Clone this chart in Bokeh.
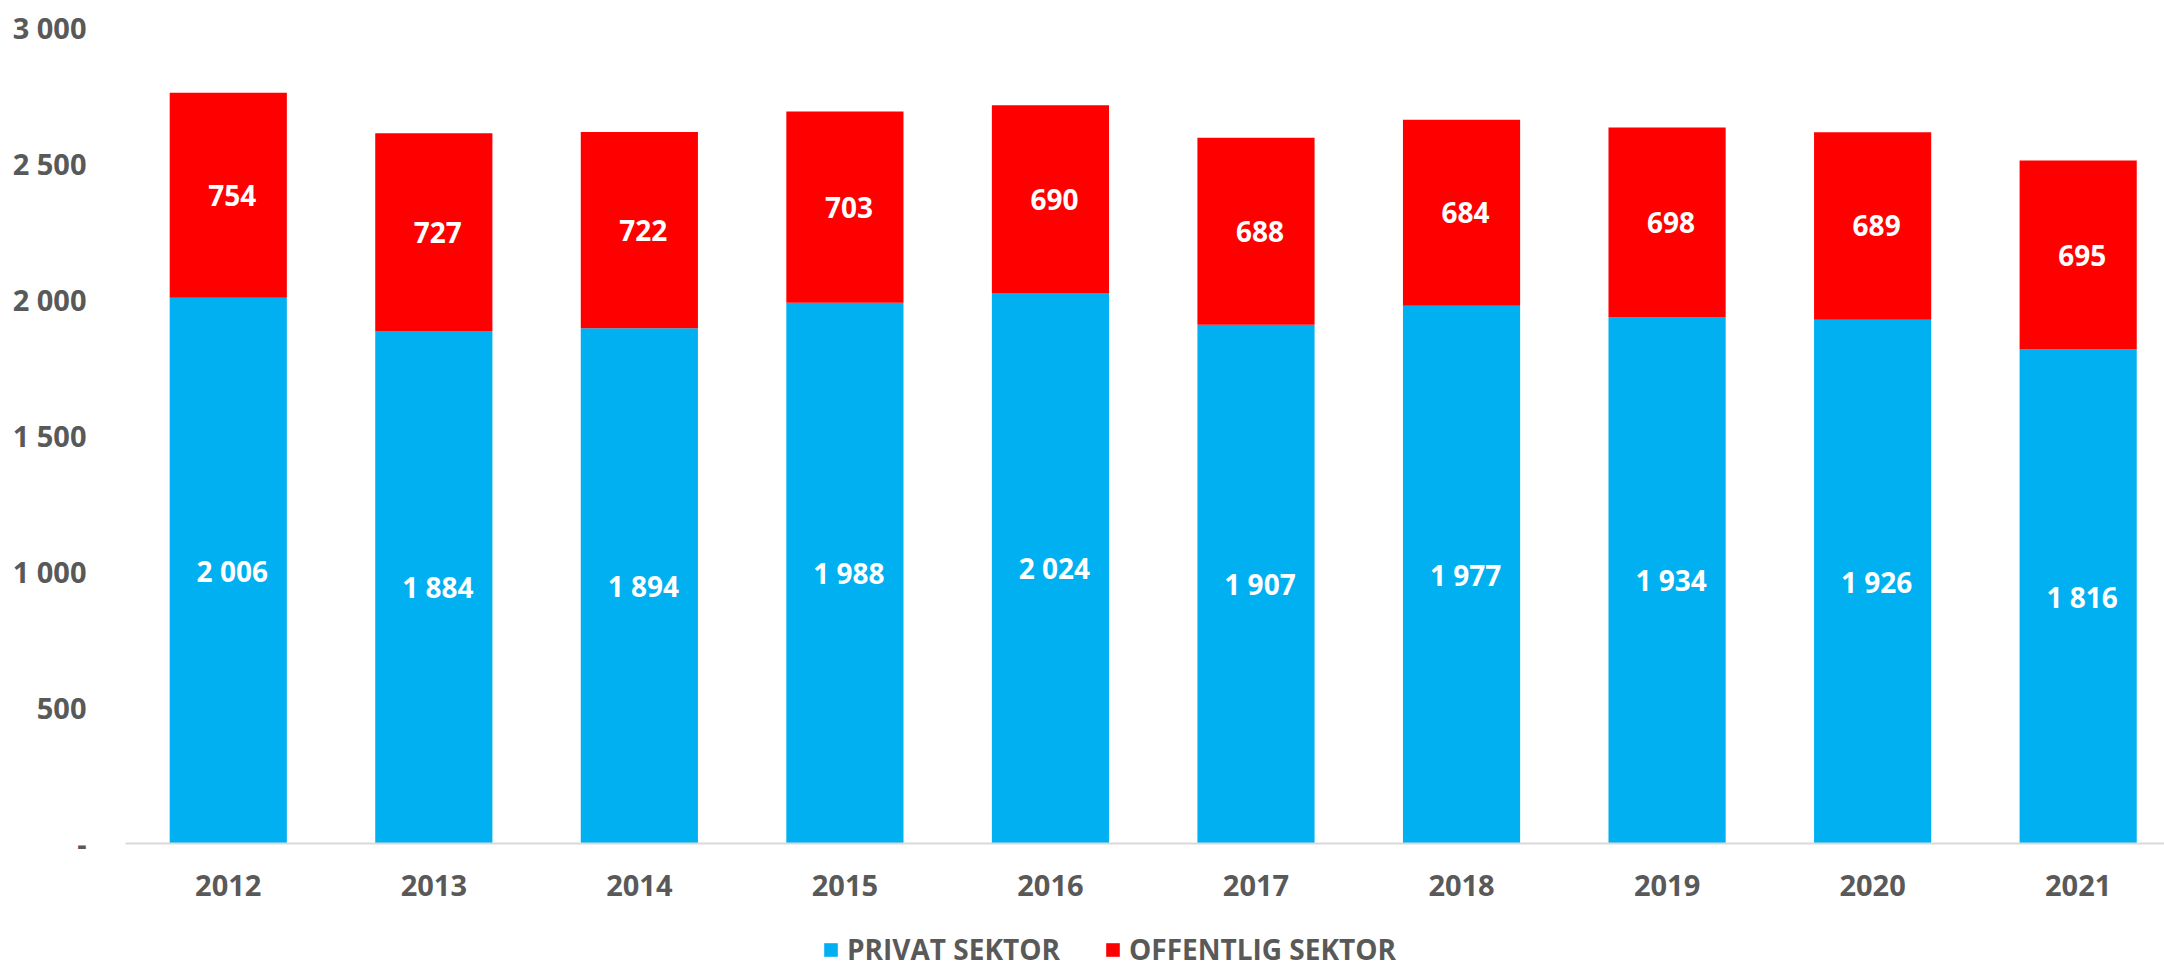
from bokeh.plotting import figure
from bokeh.layouts import column
from bokeh.models import ColumnDataSource, Range1d, FixedTicker, Legend, LegendItem
from bokeh.core.properties import value
from bokeh.embed import file_html
from bokeh.resources import INLINE

years = ["2012", "2013", "2014", "2015", "2016", "2017", "2018", "2019", "2020", "2021"]
privat = [2006, 1884, 1894, 1988, 2024, 1907, 1977, 1934, 1926, 1816]
offentlig = [754, 727, 722, 703, 690, 688, 684, 698, 689, 695]
series_names = ["PRIVAT SEKTOR", "OFFENTLIG SEKTOR"]
y_ticks = [0, 500, 1000, 1500, 2000, 2500, 3000]
y_tick_labels = ["-", "500", "1 000", "1 500", "2 000", "2 500", "3 000"]

BLUE = "#00B0F0"
RED = "#FF0000"
GRAY = "#595959"
FONT = "Open Sans"
colors = [BLUE, RED]


def fmt(v):
    return f"{v:,}".replace(",", " ")


xs = list(range(len(years)))
src = ColumnDataSource(dict(
    x=xs,
    privat=privat,
    offentlig=offentlig,
    privat_mid=[v / 2 for v in privat],
    off_mid=[a + b / 2 for a, b in zip(privat, offentlig)],
    privat_lbl=[fmt(v) for v in privat],
    off_lbl=[fmt(v) for v in offentlig],
))

p = figure(width=2164, height=924, output_backend="svg", toolbar_location=None,
           x_range=Range1d(-0.5, 9.42), y_range=Range1d(0, 3000),
           min_border_left=125, min_border_right=0, min_border_top=27, min_border_bottom=81)
p.outline_line_color = None
p.xgrid.grid_line_color = None
p.ygrid.grid_line_color = None
p.background_fill_color = "white"
p.border_fill_color = "white"

rs = p.vbar_stack(["privat", "offentlig"], x="x", width=0.57, source=src,
                  color=colors, line_color=None)

for ycol, tcol in (("privat_mid", "privat_lbl"), ("off_mid", "off_lbl")):
    p.text(x="x", y=ycol, text=tcol, source=src, text_align="center",
           text_baseline="middle", text_color="white", text_font=value(FONT),
           text_font_style="bold", text_font_size="28px", x_offset=4)

# x axis
xa = p.xaxis[0]
xa.ticker = FixedTicker(ticks=xs)
xa.major_label_overrides = {i: y for i, y in zip(xs, years)}
xa.axis_line_color = "#D9D9D9"
xa.axis_line_width = 2
xa.major_tick_line_color = None
xa.minor_tick_line_color = None
xa.major_tick_out = 0
xa.major_label_standoff = 31
xa.major_label_text_font = FONT
xa.major_label_text_font_style = "bold"
xa.major_label_text_font_size = "29px"
xa.major_label_text_color = GRAY

# y axis
ya = p.yaxis[0]
ya.ticker = FixedTicker(ticks=y_ticks)
ya.major_label_overrides = {t: l for t, l in zip(y_ticks, y_tick_labels)}
ya.axis_line_color = None
ya.major_tick_line_color = None
ya.minor_tick_line_color = None
ya.major_tick_out = 0
ya.major_label_standoff = 39
ya.major_label_text_font = FONT
ya.major_label_text_font_style = "bold"
ya.major_label_text_font_size = "29px"
ya.major_label_text_color = GRAY

# legend strip below the chart
pl = figure(width=2164, height=44, output_backend="svg", toolbar_location=None,
            x_range=Range1d(0, 1), y_range=Range1d(0, 1),
            min_border_left=0, min_border_right=0, min_border_top=0, min_border_bottom=0,
            x_axis_location=None, y_axis_location=None)
pl.outline_line_color = None
pl.xgrid.grid_line_color = None
pl.ygrid.grid_line_color = None
items = []
for name, col in zip(series_names, colors):
    # zero-height swatch renderer: only its legend glyph is visible
    r = pl.vbar(x=[0.5], top=[0], bottom=[0], width=0.0, color=col, line_color=None)
    items.append(LegendItem(label=name, renderers=[r]))
legend = Legend(items=items, orientation="horizontal", location=(697, 0),
                border_line_color=None, background_fill_alpha=0,
                padding=0, margin=0, spacing=44, label_standoff=8,
                glyph_width=17, glyph_height=17,
                label_text_font=FONT, label_text_font_style="bold",
                label_text_font_size="28px", label_text_color=GRAY)
pl.add_layout(legend, "center")

layout = column(p, pl, spacing=0)
open("out.html", "w").write(file_html(layout, INLINE))
